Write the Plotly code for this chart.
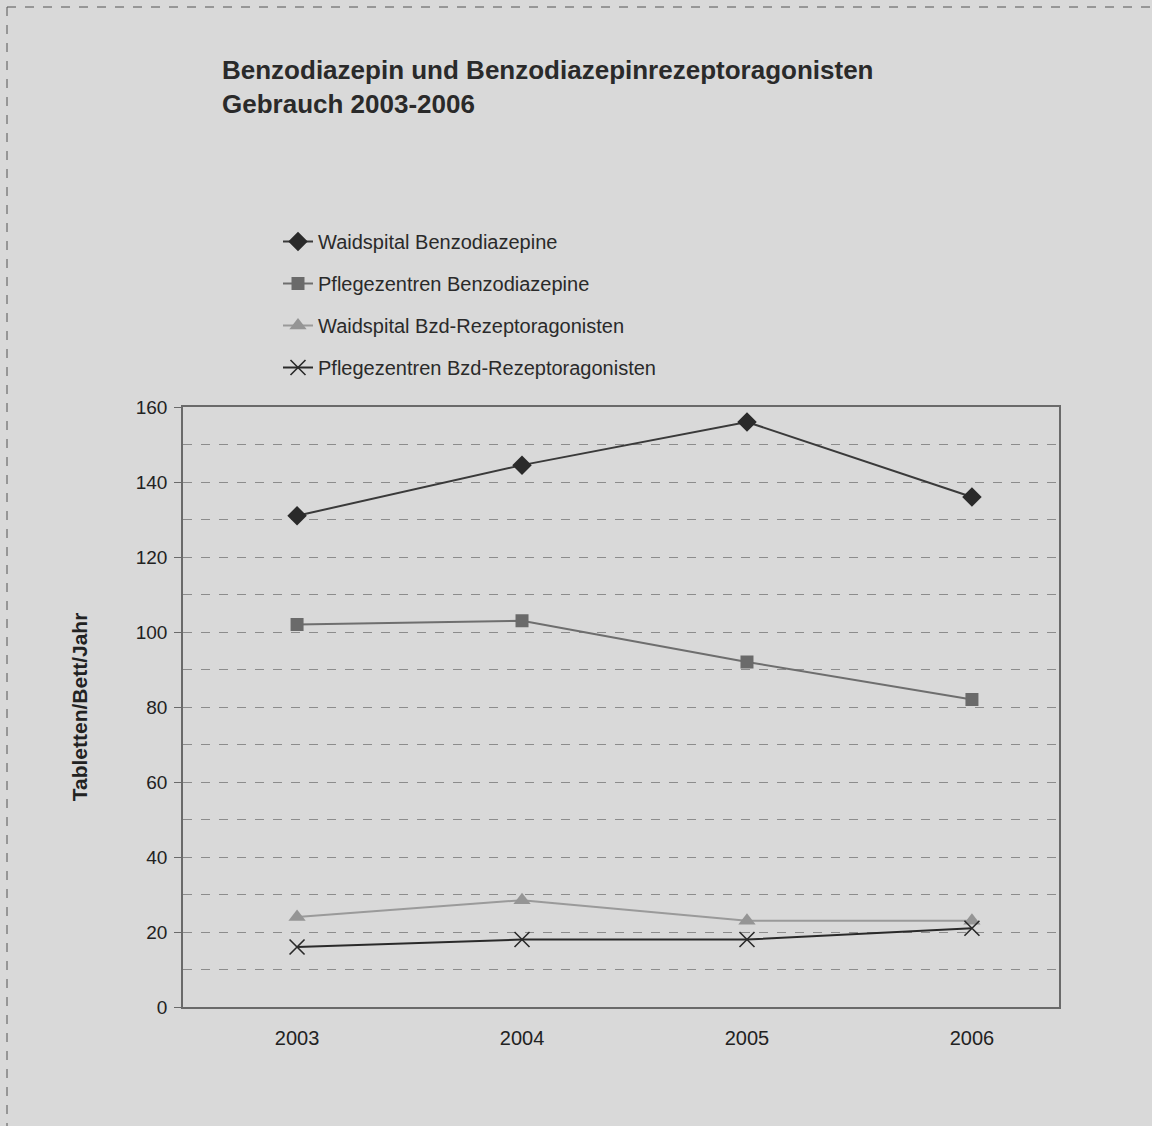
import plotly.graph_objects as go

years = [2003, 2004, 2005, 2006]
waid_benzo = [131, 144.5, 156, 136]
pflege_benzo = [102, 103, 92, 82]
waid_bzd = [24, 28.5, 23, 23]
pflege_bzd = [16, 18, 18, 21]
y_ticks = [0, 20, 40, 60, 80, 100, 120, 140, 160]

title_lines = ["Benzodiazepin und Benzodiazepinrezeptoragonisten", "Gebrauch 2003-2006"]
names = ["Waidspital Benzodiazepine", "Pflegezentren Benzodiazepine",
         "Waidspital Bzd-Rezeptoragonisten", "Pflegezentren Bzd-Rezeptoragonisten"]

BG = "#d9d9d9"
FONT = "Liberation Sans, Arial, sans-serif"

W, H = 1152, 1126
L, R, T, B = 183, 1152 - 1059, 407, 1126 - 1007
pw, ph = W - L - R, H - T - B


def px(x):
    return (x - L) / pw


def py(y):
    return (H - B - y) / ph


fig = go.Figure()
fig.add_trace(go.Scatter(x=years, y=waid_benzo, name=names[0], legendgroup="a",
                         mode="lines+markers", line=dict(color="#3a3a3a", width=2),
                         marker=dict(symbol="diamond", size=15, color="#2a2a2a")))
fig.add_trace(go.Scatter(x=years, y=pflege_benzo, name=names[1], legendgroup="b",
                         mode="lines+markers", line=dict(color="#6e6e6e", width=2),
                         marker=dict(symbol="square", size=13, color="#6a6a6a")))
fig.add_trace(go.Scatter(x=years, y=waid_bzd, name=names[2], legendgroup="c",
                         mode="lines+markers", line=dict(color="#9a9a9a", width=2),
                         marker=dict(symbol="triangle-up", size=15, color="#959595")))
fig.add_trace(go.Scatter(x=years, y=pflege_bzd, name=names[3], legendgroup="d",
                         mode="lines+markers", line=dict(color="#2a2a2a", width=2),
                         marker=dict(symbol="x-thin-open", size=15,
                                     line=dict(color="#1e1e1e", width=1.6))))

fig.update_layout(
    width=W, height=H,
    margin=dict(l=L, r=R, t=T, b=B, autoexpand=False),
    paper_bgcolor=BG, plot_bgcolor=BG,
    font=dict(family=FONT, color="#222222", size=19),
    title=dict(text="<br>".join(title_lines), xref="container", x=222 / W, xanchor="left",
               yref="container", y=1 - 79 / H, yanchor="top",
               font=dict(family=FONT, size=26, color="#2a2a2a", weight="bold")),
    showlegend=True,
    legend=dict(x=px(278), y=py(222), xanchor="left", yanchor="top",
                bgcolor="rgba(0,0,0,0)", font=dict(size=20, color="#2a2a2a"),
                traceorder="grouped", tracegroupgap=13),
    xaxis=dict(range=[2002.493, 2006.387], tickvals=years, ticktext=[str(y) for y in years],
               showgrid=False, zeroline=False, showline=True, linecolor="#6a6a6a",
               linewidth=1.5, mirror=True, ticks="", ticklabelstandoff=12,
               tickfont=dict(size=20)),
    yaxis=dict(range=[0, 160], tickvals=y_ticks, showgrid=True, gridcolor="#8c8c8c",
               griddash="dash", gridwidth=1, zeroline=False, showline=True,
               linecolor="#6a6a6a", linewidth=1.5, mirror=True, ticks="outside",
               ticklen=7, tickcolor="#6a6a6a", tickfont=dict(size=19),
               ticklabelstandoff=3,
               minor=dict(dtick=10, showgrid=True, gridcolor="#8c8c8c", griddash="dash",
                          gridwidth=1, ticks=""),
               title=dict(text="<b>Tabletten/Bett/Jahr</b>", standoff=42,
                          font=dict(size=21, color="#222222"))),
)

# dashed outer frame of the scanned page
fig.add_shape(type="line", xref="paper", yref="paper", x0=px(7), x1=px(1152), y0=py(7), y1=py(7),
              line=dict(color="#555555", width=1, dash="dash"))
fig.add_shape(type="line", xref="paper", yref="paper", x0=px(7), x1=px(7), y0=py(7), y1=py(1126),
              line=dict(color="#555555", width=1, dash="dash"))

fig.write_html("out.html", config={"displayModeBar": False},
               post_script="document.body.style.margin='0';")
